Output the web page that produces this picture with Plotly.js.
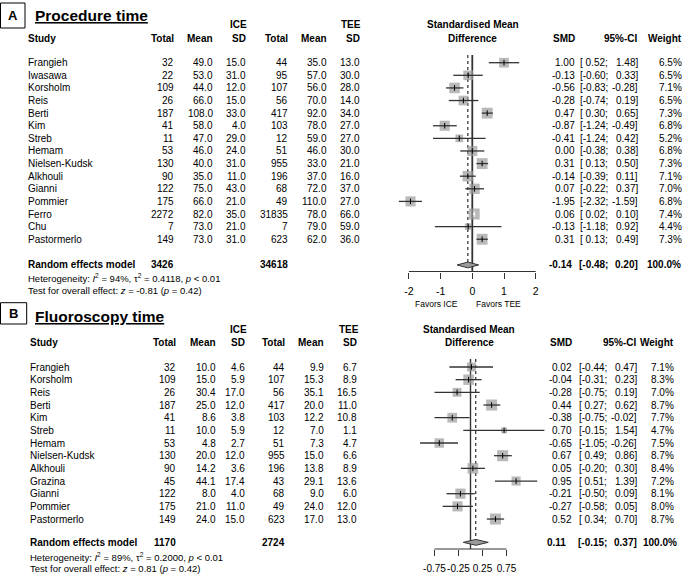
<!DOCTYPE html>
<html><head><meta charset="utf-8">
<script src="https://cdn.plot.ly/plotly-3.0.1.min.js"></script>
<style>html,body{margin:0;padding:0;background:#fff}#chart{width:685px;height:577px}</style>
</head><body><div id="chart"></div>
<script>
// ---------- Panel A: Procedure time ----------
const studiesA = ['Frangieh','Iwasawa','Korsholm','Reis','Berti','Kim','Streb','Hemam','Nielsen-Kudsk','Alkhouli','Gianni','Pommier','Ferro','Chu','Pastormerlo'];
const iceTotalA = [32,22,109,26,187,41,11,53,130,90,122,175,2272,7,149];
const iceMeanA = [49.0,53.0,44.0,66.0,108.0,58.0,47.0,46.0,40.0,35.0,75.0,66.0,82.0,73.0,73.0];
const iceSdA = [15.0,31.0,12.0,15.0,33.0,4.0,29.0,24.0,31.0,11.0,43.0,21.0,35.0,21.0,31.0];
const teeTotalA = [44,95,107,56,417,103,12,51,955,196,68,49,31835,7,623];
const teeMeanA = [35.0,57.0,56.0,70.0,92.0,78.0,59.0,46.0,33.0,37.0,72.0,110.0,78.0,79.0,62.0];
const teeSdA = [13.0,30.0,28.0,14.0,34.0,27.0,27.0,30.0,21.0,16.0,37.0,27.0,66.0,59.0,36.0];
const smdA = [1.00,-0.13,-0.56,-0.28,0.47,-0.87,-0.41,0.00,0.31,-0.14,0.07,-1.95,0.06,-0.13,0.31];
const ciLowA = [0.52,-0.60,-0.83,-0.74,0.30,-1.24,-1.24,-0.38,0.13,-0.39,-0.22,-2.32,0.02,-1.18,0.13];
const ciHighA = [1.48,0.33,-0.28,0.19,0.65,-0.49,0.42,0.38,0.50,0.11,0.37,-1.59,0.10,0.92,0.49];
const weightA = [6.5,6.5,7.1,6.5,7.3,6.8,5.2,6.8,7.3,7.1,7.0,6.8,7.4,4.4,7.3];
const pooledA = [-0.14,-0.48,0.20];
const totalsA = [3426,34618];
const hetA = ['94%','0.4118','0.01'];
const testA = ['-0.81','0.42'];
const ticksA = [-2,-1,0,1,2];
const tickTextA = ['-2','-1','0','1','2'];

// ---------- Panel B: Fluoroscopy time ----------
const studiesB = ['Frangieh','Korsholm','Reis','Berti','Kim','Streb','Hemam','Nielsen-Kudsk','Alkhouli','Grazina','Gianni','Pommier','Pastormerlo'];
const iceTotalB = [32,109,26,187,41,11,53,130,90,45,122,175,149];
const iceMeanB = [10.0,15.0,30.4,25.0,8.6,10.0,4.8,20.0,14.2,44.1,8.0,21.0,24.0];
const iceSdB = [4.6,5.9,17.0,12.0,3.8,5.9,2.7,12.0,3.6,17.4,4.0,11.0,15.0];
const teeTotalB = [44,107,56,417,103,12,51,955,196,43,68,49,623];
const teeMeanB = [9.9,15.3,35.1,20.0,12.2,7.0,7.3,15.0,13.8,29.1,9.0,24.0,17.0];
const teeSdB = [6.7,8.9,16.5,11.0,10.8,1.1,4.7,6.6,8.9,13.6,6.0,12.0,13.0];
const smdB = [0.02,-0.04,-0.28,0.44,-0.38,0.70,-0.65,0.67,0.05,0.95,-0.21,-0.27,0.52];
const ciLowB = [-0.44,-0.31,-0.75,0.27,-0.75,-0.15,-1.05,0.49,-0.20,0.51,-0.50,-0.58,0.34];
const ciHighB = [0.47,0.23,0.19,0.62,-0.02,1.54,-0.26,0.86,0.30,1.39,0.09,0.05,0.70];
const weightB = [7.1,8.3,7.0,8.7,7.7,4.7,7.5,8.7,8.4,7.2,8.1,8.0,8.7];
const pooledB = [0.11,-0.15,0.37];
const totalsB = [1170,2724];
const hetB = ['89%','0.2000','0.01'];
const testB = ['0.81','0.42'];
const ticksB = [-0.75,-0.25,0.25,0.75];
const tickTextB = ['-0.75','-0.25','0.25','0.75'];

// ---------- layout geometry (pixels) ----------
const W = 685, H = 577;
const FONT = 'Liberation Sans, Arial, Helvetica, sans-serif';
const NBSP = '\u00a0';
const PX = x => x / W;
const PY = y => 1 - y / H;

const geomA = {
  letter:'A', title:'Procedure time', xa:'x', ya:'y', xKey:'xaxis', yKey:'yaxis',
  y0:62.7, dy:12.61, dom:[0,304], ppu:31.7, zeroPx:472.3, axisPx:271.5, lineTop:55,
  poolRow:16.04, hetPx:[278.3,290], hdrPx:[25,38.3], titlePx:16, box:[0.5,3,25,28],
  tickFont:10.5, standoff:4, favorsPx:304, zeroW:1.8,
  c:{name:26.7,t1:175,m1:214,s1:247,t2:289,m2:328,s2:361,smd:576,lo:609.3,hi:639,w:683,
     ice:238,tee:351,smdHdr:472.5,pSmd:573.3,pW:681.7}
};
const geomB = {
  letter:'B', title:'Fluoroscopy time', xa:'x2', ya:'y2', xKey:'xaxis2', yKey:'yaxis2',
  y0:367, dy:12.67, dom:[304,577], ppu:48, zeroPx:470.5, axisPx:549, lineTop:359,
  poolRow:13.84, hetPx:[556.7,568.3], hdrPx:[330,342.3], titlePx:316, box:[0.5,302.7,26.7,324],
  tickFont:10, standoff:4, favorsPx:null, zeroW:1.4,
  c:{name:29.3,t1:176.7,m1:216.7,s1:246,t2:286,m2:325,s2:358.3,smd:573.3,lo:608.3,hi:637.7,w:675,
     ice:239,tee:348.5,smdHdr:469,pSmd:566.7,pW:678}
};

const dataA = {studies:studiesA,n1:iceTotalA,m1:iceMeanA,s1:iceSdA,n2:teeTotalA,m2:teeMeanA,s2:teeSdA,
  smd:smdA,lo:ciLowA,hi:ciHighA,w:weightA,pool:pooledA,tot:totalsA,het:hetA,test:testA,ticks:ticksA,tickText:tickTextA};
const dataB = {studies:studiesB,n1:iceTotalB,m1:iceMeanB,s1:iceSdB,n2:teeTotalB,m2:teeMeanB,s2:teeSdB,
  smd:smdB,lo:ciLowB,hi:ciHighB,w:weightB,pool:pooledB,tot:totalsB,het:hetB,test:testB,ticks:ticksB,tickText:tickTextB};

const annotations = [];
const shapes = [];
const traces = [];
const layout = {
  width:W, height:H, margin:{l:0,r:0,t:0,b:0,pad:0},
  paper_bgcolor:'#fff', plot_bgcolor:'rgba(0,0,0,0)', showlegend:false,
  font:{family:FONT, size:10, color:'#000'}
};

function txt(text, x, y, yref, xanchor, size, bold) {
  annotations.push({text: bold ? '<b>'+text+'</b>' : text, x: PX(x), xref:'paper',
    y: yref === 'paper' ? PY(y) : y, yref: yref, xanchor: xanchor, yanchor:'middle',
    showarrow:false, borderpad:0, font:{family:FONT, size:size||10, color:'#000'}});
}
const loText = v => '[' + (v < 0 ? '' : NBSP) + v.toFixed(2) + ';';

function buildPanel(d, g) {
  const rowOf = px => (px - g.y0) / g.dy;
  const yref = g.ya;
  const c = g.c;
  layout[g.xKey] = {
    domain:[0,1], range:[-g.zeroPx/g.ppu, (W-g.zeroPx)/g.ppu], anchor:'free', position:PY(g.axisPx),
    showgrid:false, zeroline:false, showline:false, ticks:'outside', ticklen:6, tickwidth:1, tickcolor:'#333',
    tickmode:'array', tickvals:d.ticks, ticktext:d.tickText, tickangle:0, ticklabelstandoff:g.standoff,
    tickfont:{family:FONT, size:g.tickFont, color:'#000'}, fixedrange:true
  };
  layout[g.yKey] = {
    domain:[PY(g.dom[1]), PY(g.dom[0])], range:[rowOf(g.dom[1]), rowOf(g.dom[0])],
    visible:false, fixedrange:true
  };
  shapes.push({type:'line', xref:g.xa, yref:'paper', x0:d.ticks[0], x1:d.ticks[d.ticks.length-1],
    y0:PY(g.axisPx), y1:PY(g.axisPx), line:{color:'#333', width:1}});

  traces.push({type:'scatter', mode:'lines', xaxis:g.xa, yaxis:g.ya, hoverinfo:'skip',
    x:[0,0], y:[rowOf(g.lineTop), rowOf(g.axisPx)], line:{color:'#333', width:g.zeroW}});
  traces.push({type:'scatter', mode:'lines', xaxis:g.xa, yaxis:g.ya, hoverinfo:'skip',
    x:[d.pool[0], d.pool[0]], y:[rowOf(g.lineTop), g.poolRow - 0.23], line:{color:'#000', width:1, dash:'dot'}});

  const maxW = Math.max.apply(null, d.w);
  const sizes = d.w.map(w => 11 * w / maxW);
  const rows = d.smd.map((_, i) => i);
  traces.push({type:'scatter', mode:'markers', xaxis:g.xa, yaxis:g.ya, hoverinfo:'skip',
    x:d.smd, y:rows, marker:{symbol:'square', size:sizes, color:'#9b9b9b', line:{width:0}}});

  const inside = d.lo.map((l, i) => (d.hi[i] - l) * g.ppu < sizes[i]);
  [false, true].forEach(flag => {
    const x = [], y = [];
    d.lo.forEach((l, i) => { if (inside[i] === flag) { x.push(l, d.hi[i], null); y.push(i, i, null); } });
    if (x.length) traces.push({type:'scatter', mode:'lines', xaxis:g.xa, yaxis:g.ya, hoverinfo:'skip',
      x:x, y:y, line:{color: flag ? '#fff' : '#333', width:1.3}});
  });
  traces.push({type:'scatter', mode:'markers', xaxis:g.xa, yaxis:g.ya, hoverinfo:'skip',
    x:d.smd, y:rows, marker:{symbol:'line-ns', size:4,
      line:{width:1, color: inside.map(f => f ? '#fff' : '#000')}}});

  const pr = g.poolRow, h = 0.23;
  traces.push({type:'scatter', mode:'lines', xaxis:g.xa, yaxis:g.ya, hoverinfo:'skip',
    x:[d.pool[1], d.pool[0], d.pool[2], d.pool[0], d.pool[1]], y:[pr, pr-h, pr, pr+h, pr],
    fill:'toself', fillcolor:'#9b9b9b', line:{color:'#333', width:1}});

  shapes.push({type:'rect', xref:'paper', yref:'paper', x0:PX(g.box[0]), x1:PX(g.box[2]),
    y0:PY(g.box[3]), y1:PY(g.box[1]), line:{color:'#000', width:1}, fillcolor:'rgba(0,0,0,0)'});
  txt(g.letter, (g.box[0]+g.box[2])/2, (g.box[1]+g.box[3])/2, 'paper', 'center', 13, true);
  txt('<u>'+g.title+'</u>', 34, g.titlePx, 'paper', 'left', 15.5, true);

  const h1 = g.hdrPx[0], h2 = g.hdrPx[1];
  txt('ICE', c.ice, h1, 'paper', 'center', 10, true);
  txt('TEE', c.tee, h1, 'paper', 'center', 10, true);
  txt('Standardised Mean', c.smdHdr, h1, 'paper', 'center', 10, true);
  txt('Study', c.name, h2, 'paper', 'left', 10, true);
  txt('Total', c.t1, h2, 'paper', 'right', 10, true);
  txt('Mean', c.m1, h2, 'paper', 'right', 10, true);
  txt('SD', c.s1, h2, 'paper', 'right', 10, true);
  txt('Total', c.t2, h2, 'paper', 'right', 10, true);
  txt('Mean', c.m2, h2, 'paper', 'right', 10, true);
  txt('SD', c.s2, h2, 'paper', 'right', 10, true);
  txt('Difference', c.smdHdr, h2, 'paper', 'center', 10, true);
  txt('SMD', c.smd, h2, 'paper', 'right', 10, true);
  txt('95%-CI', c.hi, h2, 'paper', 'right', 10, true);
  txt('Weight', c.w, h2, 'paper', 'right', 10, true);

  d.studies.forEach((s, i) => {
    txt(s, c.name, i, yref, 'left');
    txt(String(d.n1[i]), c.t1, i, yref, 'right');
    txt(d.m1[i].toFixed(1), c.m1, i, yref, 'right');
    txt(d.s1[i].toFixed(1), c.s1, i, yref, 'right');
    txt(String(d.n2[i]), c.t2, i, yref, 'right');
    txt(d.m2[i].toFixed(1), c.m2, i, yref, 'right');
    txt(d.s2[i].toFixed(1), c.s2, i, yref, 'right');
    txt(d.smd[i].toFixed(2), c.smd, i, yref, 'right');
    txt(loText(d.lo[i]), c.lo, i, yref, 'right');
    txt(d.hi[i].toFixed(2) + ']', c.hi, i, yref, 'right');
    txt(d.w[i].toFixed(1) + '%', c.w, i, yref, 'right');
  });

  txt('Random effects model', c.name, pr, yref, 'left', 10, true);
  txt(String(d.tot[0]), c.t1, pr, yref, 'right', 10, true);
  txt(String(d.tot[1]), c.t2, pr, yref, 'right', 10, true);
  txt(d.pool[0].toFixed(2), c.pSmd, pr, yref, 'right', 10, true);
  txt(loText(d.pool[1]), c.lo, pr, yref, 'right', 10, true);
  txt(d.pool[2].toFixed(2) + ']', c.hi, pr, yref, 'right', 10, true);
  txt('100.0%', c.pW, pr, yref, 'right', 10, true);

  txt('Heterogeneity: <i>I</i><sup>2</sup> = ' + d.het[0] + ', τ<sup>2</sup> = ' + d.het[1] + ', <i>p</i> &lt; ' + d.het[2],
      c.name, g.hetPx[0], 'paper', 'left', 9.5);
  txt('Test for overall effect: <i>z</i> = ' + d.test[0] + ' (<i>p</i> = ' + d.test[1] + ')',
      c.name, g.hetPx[1], 'paper', 'left', 9.5);

  if (g.favorsPx) {
    txt('Favors ICE', 436, g.favorsPx, 'paper', 'center', 8.5);
    txt('Favors TEE', 498.5, g.favorsPx, 'paper', 'center', 8.5);
  }
}

buildPanel(dataA, geomA);
buildPanel(dataB, geomB);
layout.annotations = annotations;
layout.shapes = shapes;

Plotly.newPlot('chart', traces, layout, {staticPlot:true, displayModeBar:false});
</script>
</body></html>
